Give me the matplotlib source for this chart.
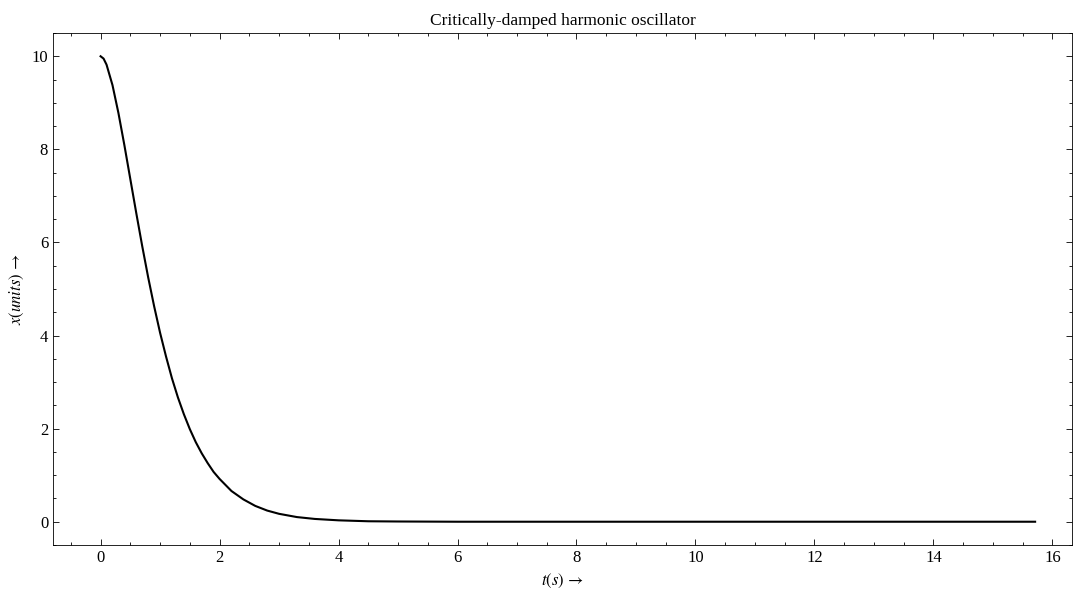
import numpy as np
import matplotlib
matplotlib.use("Agg")
import matplotlib.pyplot as plt
from matplotlib.ticker import AutoMinorLocator

# values
t_vals = [0.0, 0.05, 0.1, 0.2, 0.3, 0.4, 0.5, 0.6, 0.7, 0.8, 0.9, 1.0,
          1.1, 1.2, 1.3, 1.4, 1.5, 1.6, 1.7, 1.8, 1.9, 2.0, 2.2, 2.4,
          2.6, 2.8, 3.0, 3.3, 3.6, 4.0, 4.5, 5.0, 6.0, 8.0, 12.0, 15.71]
x_vals = [10.0, 9.95, 9.82, 9.38, 8.78, 8.09, 7.36, 6.63, 5.92, 5.25, 4.63, 4.06,
          3.55, 3.08, 2.67, 2.31, 1.99, 1.71, 1.47, 1.26, 1.07, 0.92, 0.66, 0.48,
          0.34, 0.24, 0.17, 0.10, 0.06, 0.03, 0.01, 0.005, 0.0, 0.0, 0.0, 0.0]

plt.rcParams['font.family'] = 'serif'
plt.rcParams['font.serif'] = ['Liberation Serif', 'DejaVu Serif']
plt.rcParams['mathtext.fontset'] = 'stix'
plt.rcParams['font.size'] = 12

fig = plt.figure(figsize=(10.73, 5.9), dpi=100)
ax = fig.add_axes([53 / 1073, 45 / 590, 1019 / 1073, 512 / 590])
ax.plot(t_vals, x_vals, color='black', linewidth=1.5)

ax.set_xlim(-0.8, 16.33)
ax.set_xticks([0, 2, 4, 6, 8, 10, 12, 14, 16])
ax.set_yticks([0, 2, 4, 6, 8, 10])
ax.xaxis.set_minor_locator(AutoMinorLocator(4))
ax.yaxis.set_minor_locator(AutoMinorLocator(4))
ax.tick_params(which='both', direction='in', top=True, right=True)
ax.tick_params(which='major', length=4, width=0.6)
ax.tick_params(which='minor', length=2, width=0.6)
for sp in ax.spines.values():
    sp.set_linewidth(0.6)

ax.set_title("Critically-damped harmonic oscillator", fontsize=12.5)
ax.set_xlabel(r"$t(s)\,\rightarrow$")
ax.set_ylabel(r"$x(units)\,\rightarrow$")

fig.savefig("out.png", dpi=100)
